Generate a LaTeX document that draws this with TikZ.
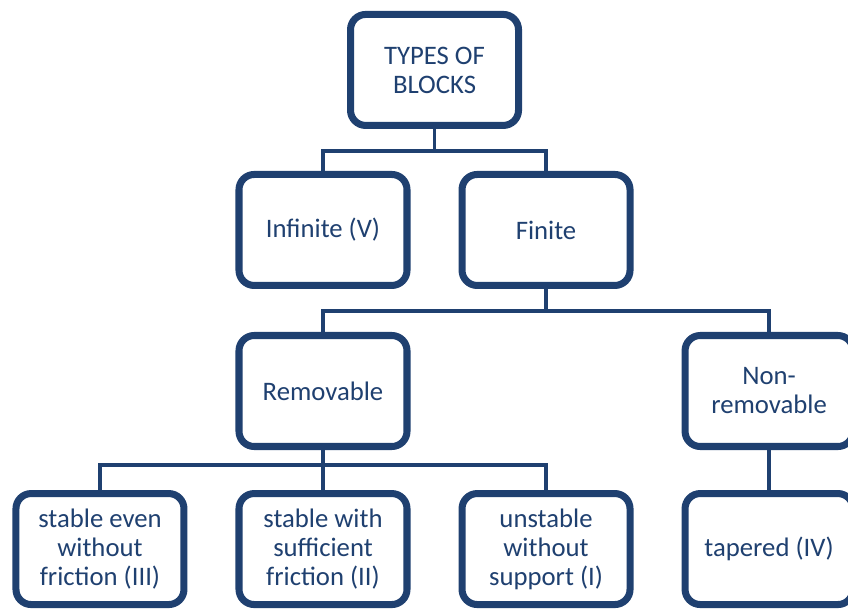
\documentclass[tikz,border=0pt]{standalone}
\usepackage{fontspec}
\setmainfont{Carlito}
\usepackage{tikz}
\usetikzlibrary{positioning, calc, shadows}
\definecolor{blockblue}{RGB}{31,64,112}

\begin{document}
\begin{tikzpicture}[
    block/.style={rectangle, draw=blockblue, line width=5pt, rounded corners=0.38cm, minimum height=2.775cm, minimum width=4.2cm, align=center, fill=white, text=blockblue,
        drop shadow={shadow xshift=1.5pt, shadow yshift=-1.5pt, opacity=0.3, fill=gray}}, % white box, thick blue frame
    link/.style={draw=blockblue, line width=2.8pt},
    node distance=1cm and 1.2cm, % vertical and horizontal spacing
    every node/.append style={font=\fontsize{19}{20.6}\selectfont}
]

% Picture frame (right box is cut off)
\clip (-8.075,-5.425) rectangle (13.125,9.775);

% Third row: Removable
\node[block] (removable) {Removable};

% Bottom row: the four block kinds
\node[block, below=of removable] (sufficient) {stable with\\sufficient\\friction (II)};
\node[block, left=of sufficient] (even)       {stable even\\without\\friction (III)};
\node[block, right=of sufficient] (unstable)  {unstable\\without\\support (I)};
\node[block, right=of unstable] (tapered)     {tapered (IV)};

% Third row: Non-removable
\node[block, above=of tapered] (nonremovable) {Non-\\removable};

% Second row: Infinite, Finite
\node[block, above=1.075cm of removable] (infinite) {Infinite (V)};
\node[block, right=of infinite] (finite)            {Finite};

% Top: TYPES OF BLOCKS
\node[block, above=1.05cm of $(infinite.north)!0.5!(finite.north)$, anchor=south] (types) {TYPES OF\\BLOCKS};

% Connections (tree with right-angle forks)
\draw[link] (types.south) -- ++(0,-0.55) -| (infinite.north);
\draw[link] (types.south) -- ++(0,-0.55) -| (finite.north);

\draw[link] (finite.south) -- ++(0,-0.55) -| (removable.north);
\draw[link] (finite.south) -- ++(0,-0.55) -| (nonremovable.north);

\draw[link] (removable.south) -- ++(0,-0.375) -| (even.north);
\draw[link] (removable.south) -- ++(0,-0.375) -| (sufficient.north);
\draw[link] (removable.south) -- ++(0,-0.375) -| (unstable.north);

\draw[link] (nonremovable.south) -- (tapered.north);

\end{tikzpicture}
\end{document}
